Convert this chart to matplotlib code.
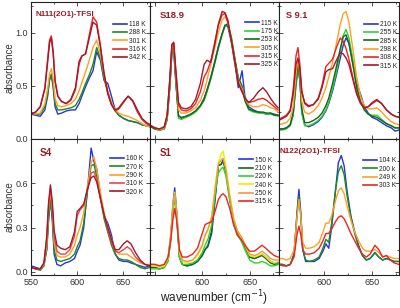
import matplotlib
matplotlib.use("Agg")
import matplotlib.pyplot as plt
from matplotlib.ticker import MultipleLocator, FixedLocator

# ---------------- data ----------------
# Panel 1: N111(2O1)-TFSI
x1 = [550, 555, 560, 565, 568, 570, 572, 574, 576, 579, 583, 588, 593, 598, 602, 605, 609,
      613, 617, 621, 625, 629, 633, 637, 641, 645, 650, 655, 660, 665, 670, 675, 679]
p1_labels = ["118 K", "288 K", "301 K", "316 K", "342 K"]
p1_118 = [0.23, 0.22, 0.21, 0.27, 0.40, 0.55, 0.60, 0.48, 0.30, 0.23, 0.24, 0.26, 0.27, 0.27, 0.33, 0.40, 0.49,
          0.57, 0.64, 0.82, 0.74, 0.55, 0.52, 0.40, 0.27, 0.22, 0.19, 0.17, 0.16, 0.15, 0.13, 0.12, 0.11]
p1_288 = [0.24, 0.23, 0.23, 0.30, 0.42, 0.56, 0.61, 0.50, 0.33, 0.27, 0.27, 0.28, 0.29, 0.31, 0.37, 0.43, 0.52,
          0.60, 0.70, 0.86, 0.76, 0.56, 0.44, 0.33, 0.26, 0.22, 0.19, 0.17, 0.16, 0.15, 0.13, 0.12, 0.11]
p1_301 = [0.24, 0.23, 0.24, 0.33, 0.47, 0.61, 0.66, 0.56, 0.38, 0.31, 0.30, 0.31, 0.33, 0.37, 0.45, 0.53, 0.63,
          0.74, 0.86, 0.93, 0.80, 0.60, 0.45, 0.34, 0.27, 0.24, 0.22, 0.21, 0.19, 0.17, 0.14, 0.12, 0.11]
p1_316 = [0.23, 0.25, 0.30, 0.48, 0.75, 0.93, 0.97, 0.82, 0.55, 0.40, 0.35, 0.33, 0.36, 0.46, 0.70, 0.78, 0.80,
          0.98, 1.15, 1.10, 0.88, 0.60, 0.42, 0.32, 0.26, 0.28, 0.34, 0.40, 0.35, 0.25, 0.18, 0.14, 0.12]
p1_342 = [0.23, 0.25, 0.30, 0.47, 0.72, 0.90, 0.95, 0.80, 0.54, 0.40, 0.35, 0.33, 0.37, 0.48, 0.73, 0.78, 0.80,
          0.95, 1.10, 1.07, 0.87, 0.62, 0.43, 0.32, 0.27, 0.29, 0.35, 0.40, 0.36, 0.27, 0.19, 0.15, 0.13]

# Panel 2: S18.9
x2 = [546, 550, 555, 560, 563, 566, 568, 570, 572, 575, 578, 583, 588, 593, 598, 602, 605, 609,
      613, 617, 621, 624, 627, 631, 635, 638, 642, 645, 649, 654, 659, 664, 668, 672, 676, 680]
p2_labels = ["115 K", "175 K", "253 K", "305 K", "315 K", "325 K"]
p2_115 = [0.12, 0.10, 0.08, 0.09, 0.18, 0.50, 0.80, 0.82, 0.55, 0.22, 0.19, 0.21, 0.23, 0.26, 0.31, 0.38, 0.46, 0.58,
          0.72, 0.87, 0.99, 1.07, 1.06, 0.90, 0.68, 0.48, 0.64, 0.40, 0.30, 0.27, 0.25, 0.24, 0.23, 0.24, 0.23, 0.22]
p2_175 = [0.11, 0.09, 0.08, 0.09, 0.18, 0.50, 0.82, 0.86, 0.58, 0.19, 0.18, 0.20, 0.22, 0.25, 0.30, 0.36, 0.44, 0.56,
          0.70, 0.85, 0.98, 1.06, 1.09, 0.95, 0.73, 0.58, 0.50, 0.36, 0.27, 0.25, 0.24, 0.24, 0.23, 0.23, 0.22, 0.21]
p2_253 = [0.11, 0.09, 0.08, 0.10, 0.19, 0.52, 0.84, 0.86, 0.58, 0.21, 0.20, 0.21, 0.23, 0.26, 0.31, 0.37, 0.45, 0.57,
          0.71, 0.86, 0.99, 1.07, 1.08, 0.93, 0.72, 0.57, 0.49, 0.36, 0.28, 0.26, 0.25, 0.25, 0.24, 0.24, 0.22, 0.22]
p2_305 = [0.12, 0.10, 0.08, 0.10, 0.20, 0.55, 0.86, 0.88, 0.62, 0.27, 0.24, 0.24, 0.26, 0.29, 0.36, 0.45, 0.55, 0.70,
          0.85, 1.00, 1.12, 1.15, 1.10, 0.92, 0.70, 0.55, 0.47, 0.38, 0.32, 0.30, 0.30, 0.32, 0.31, 0.29, 0.28, 0.25]
p2_315 = [0.12, 0.10, 0.09, 0.11, 0.22, 0.58, 0.88, 0.90, 0.65, 0.32, 0.27, 0.26, 0.28, 0.33, 0.44, 0.58, 0.63, 0.73,
          0.90, 1.07, 1.17, 1.18, 1.10, 0.90, 0.68, 0.53, 0.45, 0.38, 0.34, 0.35, 0.37, 0.38, 0.36, 0.33, 0.30, 0.27]
p2_325 = [0.12, 0.10, 0.09, 0.11, 0.22, 0.58, 0.89, 0.91, 0.67, 0.34, 0.29, 0.28, 0.30, 0.37, 0.52, 0.70, 0.74, 0.72,
          0.88, 1.08, 1.20, 1.19, 1.12, 0.92, 0.70, 0.52, 0.44, 0.38, 0.34, 0.38, 0.44, 0.48, 0.44, 0.38, 0.33, 0.29]

# Panel 3: S 9.1
x3 = [553, 557, 561, 565, 568, 571, 573, 575, 577, 580, 584, 589, 594, 598, 602, 605, 609,
      613, 617, 620, 623, 626, 630, 634, 638, 642, 646, 650, 655, 660, 665, 670, 674, 678]
p3_labels = ["210 K", "255 K", "285 K", "298 K", "308 K", "315 K"]
p3_210 = [0.09, 0.09, 0.10, 0.13, 0.22, 0.50, 0.65, 0.55, 0.25, 0.13, 0.11, 0.13, 0.16, 0.20, 0.26, 0.33, 0.45,
          0.60, 0.76, 0.88, 0.95, 0.90, 0.72, 0.52, 0.42, 0.30, 0.24, 0.20, 0.18, 0.15, 0.12, 0.10, 0.07, 0.08]
p3_255 = [0.08, 0.08, 0.09, 0.12, 0.22, 0.52, 0.68, 0.55, 0.24, 0.12, 0.12, 0.14, 0.17, 0.21, 0.27, 0.34, 0.47,
          0.63, 0.82, 0.97, 1.03, 0.95, 0.75, 0.50, 0.35, 0.27, 0.23, 0.22, 0.22, 0.18, 0.14, 0.12, 0.10, 0.10]
p3_285 = [0.09, 0.09, 0.10, 0.13, 0.24, 0.55, 0.70, 0.58, 0.28, 0.15, 0.15, 0.17, 0.20, 0.24, 0.31, 0.38, 0.52,
          0.68, 0.85, 0.96, 0.98, 0.90, 0.70, 0.48, 0.35, 0.27, 0.23, 0.21, 0.20, 0.17, 0.14, 0.12, 0.10, 0.10]
p3_298 = [0.13, 0.14, 0.15, 0.19, 0.30, 0.60, 0.76, 0.62, 0.35, 0.25, 0.23, 0.26, 0.31, 0.38, 0.48, 0.58, 0.72,
          0.90, 1.08, 1.18, 1.20, 1.10, 0.85, 0.58, 0.40, 0.31, 0.28, 0.28, 0.29, 0.25, 0.20, 0.16, 0.14, 0.13]
p3_308 = [0.18, 0.20, 0.22, 0.27, 0.45, 0.78, 0.86, 0.70, 0.45, 0.33, 0.30, 0.32, 0.38, 0.50, 0.68, 0.71, 0.75,
          0.86, 0.95, 0.92, 0.85, 0.75, 0.58, 0.43, 0.34, 0.29, 0.30, 0.34, 0.37, 0.33, 0.27, 0.23, 0.21, 0.20]
p3_315 = [0.17, 0.19, 0.21, 0.26, 0.42, 0.70, 0.76, 0.66, 0.44, 0.34, 0.31, 0.32, 0.37, 0.48, 0.63, 0.65, 0.66,
          0.74, 0.81, 0.80, 0.76, 0.70, 0.56, 0.42, 0.33, 0.29, 0.30, 0.33, 0.36, 0.33, 0.27, 0.23, 0.21, 0.20]

# Panel 4: S4
x4 = [550, 555, 560, 564, 567, 569, 571, 573, 575, 578, 582, 587, 592, 597, 600, 603, 607,
      611, 615, 618, 621, 625, 629, 633, 637, 641, 645, 650, 654, 658, 663, 668, 673, 679]
p4_labels = ["160 K", "270 K", "290 K", "310 K", "320 K"]
p4_160 = [0.04, 0.03, 0.02, 0.05, 0.15, 0.35, 0.49, 0.35, 0.12, 0.05, 0.04, 0.06, 0.07, 0.09, 0.14, 0.18, 0.30,
          0.55, 0.84, 0.75, 0.70, 0.52, 0.38, 0.33, 0.25, 0.12, 0.08, 0.07, 0.07, 0.06, 0.05, 0.04, 0.03, 0.04]
p4_270 = [0.03, 0.02, 0.01, 0.04, 0.15, 0.36, 0.50, 0.38, 0.15, 0.08, 0.07, 0.08, 0.09, 0.12, 0.17, 0.21, 0.33,
          0.55, 0.72, 0.73, 0.65, 0.50, 0.36, 0.27, 0.18, 0.12, 0.09, 0.08, 0.08, 0.07, 0.05, 0.03, 0.02, 0.03]
p4_290 = [0.03, 0.02, 0.02, 0.05, 0.18, 0.42, 0.55, 0.43, 0.20, 0.11, 0.10, 0.10, 0.12, 0.18, 0.25, 0.30, 0.40,
          0.58, 0.74, 0.78, 0.70, 0.54, 0.40, 0.30, 0.22, 0.15, 0.12, 0.12, 0.12, 0.10, 0.08, 0.06, 0.05, 0.05]
p4_310 = [0.03, 0.02, 0.02, 0.06, 0.22, 0.45, 0.57, 0.45, 0.24, 0.14, 0.12, 0.12, 0.15, 0.24, 0.38, 0.42, 0.45,
          0.56, 0.67, 0.68, 0.63, 0.50, 0.38, 0.28, 0.20, 0.14, 0.13, 0.15, 0.17, 0.15, 0.10, 0.07, 0.05, 0.04]
p4_320 = [0.03, 0.02, 0.02, 0.06, 0.24, 0.47, 0.59, 0.48, 0.28, 0.18, 0.16, 0.15, 0.17, 0.27, 0.41, 0.43, 0.46,
          0.56, 0.64, 0.65, 0.61, 0.50, 0.39, 0.30, 0.22, 0.15, 0.15, 0.19, 0.21, 0.19, 0.13, 0.08, 0.05, 0.04]

# Panel 5: S1
x5 = [546, 550, 555, 560, 564, 567, 569, 571, 573, 576, 579, 584, 590, 595, 600, 603, 606, 610,
      614, 617, 620, 622, 625, 629, 633, 637, 641, 645, 650, 655, 659, 663, 667, 672, 676, 680]
p5_labels = ["150 K", "210 K", "220 K", "240 K", "250 K", "315 K"]
p5_150 = [0.03, 0.03, 0.02, 0.03, 0.08, 0.25, 0.45, 0.57, 0.42, 0.10, 0.05, 0.04, 0.05, 0.07, 0.11, 0.15, 0.17, 0.26,
          0.52, 0.72, 0.73, 0.76, 0.68, 0.50, 0.35, 0.27, 0.23, 0.17, 0.10, 0.09, 0.10, 0.12, 0.10, 0.07, 0.06, 0.06]
p5_210 = [0.03, 0.03, 0.02, 0.03, 0.08, 0.24, 0.43, 0.53, 0.40, 0.10, 0.05, 0.04, 0.05, 0.07, 0.11, 0.15, 0.18, 0.28,
          0.53, 0.72, 0.73, 0.75, 0.68, 0.50, 0.35, 0.27, 0.23, 0.17, 0.10, 0.09, 0.10, 0.11, 0.09, 0.06, 0.05, 0.05]
p5_220 = [0.02, 0.02, 0.02, 0.03, 0.07, 0.22, 0.40, 0.50, 0.38, 0.10, 0.05, 0.05, 0.06, 0.08, 0.13, 0.18, 0.22, 0.32,
          0.55, 0.67, 0.70, 0.71, 0.65, 0.48, 0.33, 0.25, 0.21, 0.15, 0.08, 0.06, 0.06, 0.07, 0.06, 0.04, 0.04, 0.05]
p5_240 = [0.04, 0.04, 0.03, 0.04, 0.09, 0.25, 0.44, 0.54, 0.41, 0.13, 0.07, 0.06, 0.08, 0.11, 0.17, 0.24, 0.28, 0.38,
          0.60, 0.74, 0.80, 0.82, 0.72, 0.53, 0.37, 0.28, 0.23, 0.18, 0.11, 0.10, 0.11, 0.12, 0.10, 0.07, 0.06, 0.07]
p5_250 = [0.05, 0.05, 0.04, 0.05, 0.10, 0.26, 0.44, 0.53, 0.41, 0.14, 0.08, 0.07, 0.08, 0.12, 0.18, 0.25, 0.29, 0.37,
          0.58, 0.73, 0.76, 0.77, 0.69, 0.51, 0.36, 0.28, 0.24, 0.19, 0.12, 0.11, 0.12, 0.14, 0.12, 0.09, 0.08, 0.08]
p5_315 = [0.05, 0.05, 0.04, 0.05, 0.10, 0.22, 0.35, 0.43, 0.35, 0.15, 0.10, 0.10, 0.12, 0.16, 0.26, 0.32, 0.33, 0.34,
          0.42, 0.49, 0.52, 0.53, 0.51, 0.43, 0.32, 0.25, 0.22, 0.18, 0.14, 0.14, 0.16, 0.18, 0.16, 0.13, 0.11, 0.10]

# Panel 6: N122(2O1)-TFSI
x6 = [553, 557, 561, 565, 569, 572, 574, 576, 578, 581, 585, 590, 595, 599, 602, 605, 608, 612,
      615, 618, 621, 624, 628, 632, 636, 640, 644, 648, 653, 657, 661, 665, 669, 673, 678]
p6_labels = ["104 K", "200 k", "249 K", "303 K"]
p6_104 = [0.05, 0.05, 0.04, 0.05, 0.12, 0.40, 0.56, 0.40, 0.15, 0.07, 0.07, 0.07, 0.09, 0.14, 0.19, 0.16, 0.30, 0.55,
          0.74, 0.79, 0.72, 0.55, 0.38, 0.27, 0.18, 0.11, 0.08, 0.09, 0.13, 0.10, 0.08, 0.09, 0.08, 0.07, 0.07]
p6_200 = [0.05, 0.05, 0.04, 0.05, 0.12, 0.38, 0.51, 0.38, 0.15, 0.08, 0.07, 0.08, 0.10, 0.16, 0.22, 0.20, 0.33, 0.55,
          0.68, 0.72, 0.66, 0.52, 0.37, 0.26, 0.17, 0.11, 0.08, 0.09, 0.13, 0.10, 0.08, 0.09, 0.08, 0.07, 0.07]
p6_249 = [0.09, 0.09, 0.08, 0.09, 0.15, 0.37, 0.49, 0.38, 0.20, 0.16, 0.16, 0.17, 0.20, 0.27, 0.33, 0.33, 0.38, 0.48,
          0.55, 0.57, 0.53, 0.45, 0.35, 0.27, 0.21, 0.16, 0.14, 0.14, 0.15, 0.13, 0.10, 0.11, 0.10, 0.09, 0.09]
p6_303 = [0.05, 0.04, 0.04, 0.05, 0.10, 0.25, 0.31, 0.25, 0.15, 0.12, 0.12, 0.13, 0.16, 0.21, 0.26, 0.26, 0.29, 0.34,
          0.37, 0.38, 0.36, 0.32, 0.26, 0.21, 0.16, 0.12, 0.10, 0.12, 0.18, 0.15, 0.10, 0.11, 0.08, 0.06, 0.05]

titles = ["N111(2O1)-TFSI", "S18.9", "S 9.1", "S4", "S1", "N122(2O1)-TFSI"]

# ---------------- styles ----------------
BLUE = "#2436d8"
GREEN = "#1b8a22"
LGREEN = "#2fd02f"
DGREEN = "#126a18"
ORANGE = "#ffa024"
ORANGE2 = "#eb9a45"
RED = "#ec2424"
RED2 = "#e04a4a"
MAROON = "#a3192b"
YELLOW = "#f4ea00"
TITLE_C = "#9b1b22"

panels = [
    (x1, [p1_118, p1_288, p1_301, p1_316, p1_342], p1_labels, [BLUE, GREEN, ORANGE, RED, MAROON]),
    (x2, [p2_115, p2_175, p2_253, p2_305, p2_315, p2_325], p2_labels, [BLUE, LGREEN, DGREEN, ORANGE, RED, MAROON]),
    (x3, [p3_210, p3_255, p3_285, p3_298, p3_308, p3_315], p3_labels, [BLUE, LGREEN, DGREEN, ORANGE, RED, MAROON]),
    (x4, [p4_160, p4_270, p4_290, p4_310, p4_320], p4_labels, [BLUE, GREEN, ORANGE, RED2, MAROON]),
    (x5, [p5_150, p5_210, p5_220, p5_240, p5_250, p5_315], p5_labels, [BLUE, DGREEN, LGREEN, YELLOW, ORANGE2, RED]),
    (x6, [p6_104, p6_200, p6_249, p6_303], p6_labels, [BLUE, GREEN, ORANGE, RED]),
]

col_xlim = [(550, 679), (545.3, 680.6), (553, 678)]
row_ylim = [(0, 1.29), (-0.022, 0.905)]
title_pos = [(0.034, 0.91, 5.8), (0.076, 0.90, 6.8), (0.06, 0.90, 6.6),
             (0.07, 0.893, 7.2), (0.076, 0.893, 7.0), (0.006, 0.907, 5.9)]
legend_pos = [(0.686, 0.861), (0.740, 0.871), (0.711, 0.861),
              (0.664, 0.877), (0.693, 0.868), (0.700, 0.861)]

plt.rcParams["font.family"] = ["Liberation Sans", "DejaVu Sans"]
fig = plt.figure(figsize=(4.0, 3.08), dpi=100)
gs = fig.add_gridspec(2, 3, width_ratios=[119, 128, 120], left=31 / 400, right=399 / 400,
                      top=1 - 2 / 308, bottom=1 - 275 / 308, hspace=0, wspace=0)

for i, (xs, ys_list, labels, colors) in enumerate(panels):
    r, c = divmod(i, 3)
    ax = fig.add_subplot(gs[r, c])
    for ys, lab, col in zip(ys_list, labels, colors):
        ax.plot(xs, ys, color=col, lw=1.0, label=lab)
    ax.set_xlim(*col_xlim[c])
    ax.set_ylim(*row_ylim[r])
    ax.xaxis.set_major_locator(FixedLocator([550, 600, 650]))
    ax.xaxis.set_minor_locator(MultipleLocator(25))
    if r == 0:
        ax.yaxis.set_major_locator(FixedLocator([0.0, 0.5, 1.0]))
        ax.yaxis.set_minor_locator(MultipleLocator(0.25))
    else:
        ax.yaxis.set_major_locator(FixedLocator([0.0, 0.3, 0.6]))
        ax.yaxis.set_minor_locator(MultipleLocator(0.15))
    ax.tick_params(which="both", direction="in", top=True, right=True,
                   labelsize=6.5, labelcolor="#333333", color="#333333", width=0.6)
    ax.tick_params(which="major", length=3)
    ax.tick_params(which="minor", length=1.6)
    if r == 1:
        if c == 0:
            ax.set_xticklabels(["550", "600", "650"])
        else:
            ax.set_xticklabels(["", "600", "650"])
    else:
        ax.tick_params(labelbottom=False)
    if c == 0:
        if r == 0:
            ax.set_yticklabels(["0.0", "0.5", "1.0"])
        else:
            ax.set_yticklabels(["0.0", "0.3", "0.6"])
    else:
        ax.tick_params(labelleft=False)
    ax.tick_params(axis="x", pad=2)
    ax.tick_params(axis="y", pad=2)
    for sp in ax.spines.values():
        sp.set_linewidth(0.8)
        sp.set_color("#222222")
    tx, ty, tfs = title_pos[i]
    ax.text(tx, ty, titles[i], transform=ax.transAxes, color=TITLE_C,
            fontsize=tfs, fontweight="bold", ha="left", va="center")
    lx, ly = legend_pos[i]
    leg = ax.legend(loc="upper left", bbox_to_anchor=(lx, ly), frameon=False,
                    fontsize=4.8, handlelength=2.1, handletextpad=0.3, labelspacing=0.2,
                    borderpad=0, borderaxespad=0)
    for t in leg.get_texts():
        t.set_color("#222222")
    for h in leg.get_lines():
        h.set_linewidth(1.2)

fig.text(0.025, 1 - 68 / 308, "absorbance", rotation=90, ha="center", va="center",
         fontsize=7, color="#333333")
fig.text(0.025, 1 - 207 / 308, "absorbance", rotation=90, ha="center", va="center",
         fontsize=7, color="#333333")
fig.text(214 / 400, 1 - 298 / 308, "wavenumber (cm$^{-1}$)", ha="center", va="center",
         fontsize=8.5, color="#222222")

fig.savefig("out.png", dpi=100)
